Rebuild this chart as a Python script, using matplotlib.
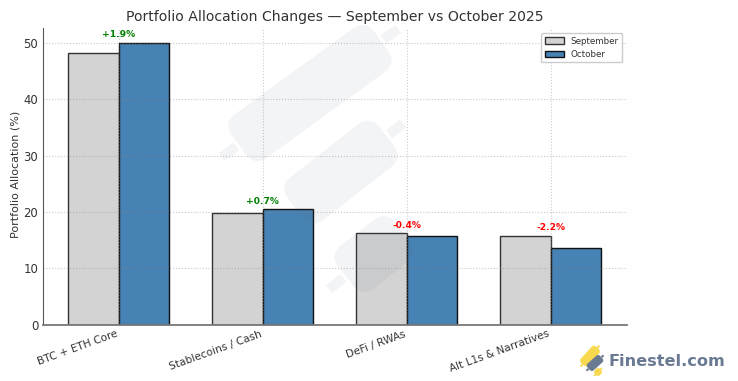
#!/usr/bin/env python3
import numpy as np
import matplotlib
matplotlib.use("Agg")
import matplotlib.pyplot as plt
from matplotlib.patches import FancyBboxPatch, Rectangle
from matplotlib.transforms import Affine2D

categories = ["BTC + ETH Core", "Stablecoins / Cash", "DeFi / RWAs", "Alt L1s & Narratives"]
september = [48.2, 19.8, 16.2, 15.8]
october = [50.1, 20.5, 15.8, 13.6]
changes = ["+1.9%", "+0.7%", "-0.4%", "-2.2%"]
change_colors = ["green", "green", "red", "red"]

W, H = 738, 381
bar_width = 0.35
ax_l, ax_r, ax_t, ax_b = 42.5, 627, 28, 324.5

fig = plt.figure(figsize=(W / 100, H / 100), dpi=100)
ax = fig.add_axes([ax_l / W, 1 - ax_b / H, (ax_r - ax_l) / W, (ax_b - ax_t) / H])

x = np.arange(len(categories))
ax.bar(x - bar_width / 2, september, bar_width, color="lightgray", edgecolor="#333333",
       linewidth=1.0, label="September")
ax.bar(x + bar_width / 2, october, bar_width, color="steelblue", edgecolor="#111111",
       linewidth=1.0, label="October")

# labels sit just above the taller bar of each pair
for i, (a, b) in enumerate(zip(september, october)):
    ax.text(i, max(a, b) + 0.65, changes[i], ha="center", va="bottom", fontsize=6.6,
            fontweight="bold", color=change_colors[i], zorder=5)

ax.set_xlim(-0.53, 3.53)
ax.set_ylim(0, 52.7)
ax.set_xticks(x)
ax.set_xticklabels(categories, rotation=20, ha="right", fontsize=7.6, color="#333333")
ax.tick_params(axis="y", labelsize=8.4, labelcolor="#333333", length=0, pad=3)
ax.tick_params(axis="x", length=0, pad=3)
ax.set_ylabel("Portfolio Allocation (%)", fontsize=8, color="#333333")
ax.yaxis.set_label_coords((21 - ax_l) / (ax_r - ax_l), (ax_b - 174) / (ax_b - ax_t))
ax.set_title("Portfolio Allocation Changes — September vs October 2025", fontsize=10.1,
             color="#333333", pad=5)
ax.set_axisbelow(False)
ax.grid(True, linestyle=":", color="#888888", alpha=0.45, linewidth=0.8)
ax.spines["top"].set_visible(False)
ax.spines["right"].set_visible(False)
ax.spines["left"].set_color("#555555")
ax.spines["bottom"].set_color("#777777")
ax.spines["bottom"].set_linewidth(1.3)
leg = ax.legend(loc="upper right", fontsize=6.3, framealpha=1, edgecolor="#cccccc", borderaxespad=0,
                handlelength=2.2, handleheight=0.77,
                bbox_to_anchor=((622.5 - ax_l) / (ax_r - ax_l), (ax_b - 33) / (ax_b - ax_t)))
leg.set_zorder(6)
for t in leg.get_texts():
    t.set_color("#333333")

# overlay in image pixels for watermark and logo
ov = fig.add_axes([0, 0, 1, 1], zorder=10)
ov.set_xlim(0, W)
ov.set_ylim(H, 0)
ov.axis("off")
ov.patch.set_alpha(0)


def candle(cx, cy, length, width, angle, color, alpha=1, wick_len=0, wick_w=0, wicks=(True, True), rad=10, gap=3):
    # rounded body plus optional wicks, rotated about the centre
    tr = Affine2D().rotate_deg_around(cx, cy, -angle) + ov.transData
    body = FancyBboxPatch((cx - length / 2 + rad, cy - width / 2 + rad), length - 2 * rad, width - 2 * rad,
                          boxstyle=f"round,pad={rad},rounding_size={rad}", fc=color, ec="none",
                          alpha=alpha, transform=tr)
    ov.add_patch(body)
    if wick_len:
        if wicks[0]:
            ov.add_patch(Rectangle((cx + length / 2 + gap, cy - wick_w / 2), wick_len, wick_w, fc=color,
                                   ec="none", alpha=alpha, transform=tr))
        if wicks[1]:
            ov.add_patch(Rectangle((cx - length / 2 - gap - wick_len, cy - wick_w / 2), wick_len, wick_w, fc=color,
                                   ec="none", alpha=alpha, transform=tr))


wm = "#5a6578"
candle(310, 93, 176, 54, 36, wm, 0.07, 18, 10, rad=16)
candle(341, 172, 116, 54, 38, wm, 0.07, 18, 10, wicks=(True, False), rad=16)
candle(374, 254, 72, 54, 38, wm, 0.07, 18, 10, wicks=(False, True), rad=16)

# Finestel logo
candle(590, 356, 22, 10, 48, "#f7d84e", rad=3, wick_len=3, wick_w=2, gap=0)
candle(595, 363, 17, 9, 42, "#6b7a93", rad=2.5, wick_len=3, wick_w=2, gap=0)
candle(598, 372, 7, 7, 45, "#f7d84e", rad=2.5, wick_len=2, wick_w=2, gap=0)
ov.text(608.5, 362, "Finestel.com", fontsize=11.6, fontweight="bold", color="#6b7a93",
        ha="left", va="center", family="DejaVu Sans")

fig.savefig("out.png", dpi=100)
